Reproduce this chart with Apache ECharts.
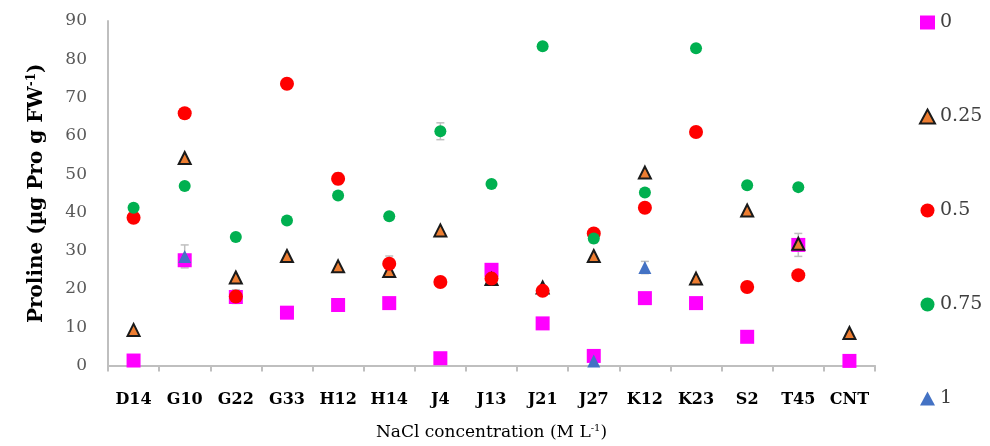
<!DOCTYPE html>
<html>
<head>
<meta charset="utf-8">
<script src="https://cdn.jsdelivr.net/npm/echarts@6/dist/echarts.min.js"></script>
<style>
  html, body { margin: 0; padding: 0; background: #fff; }
  #chart { width: 990px; height: 446px; }
</style>
</head>
<body>
<div id="chart"></div>
<script>
  // categories (lines)
  const lines = ['D14','G10','G22','G33','H12','H14','J4','J13','J21','J27','K12','K23','S2','T45','CNT'];
  // proline per NaCl level
  const nacl0    = [1.3, 27.5, 17.9, 13.8, 15.8, 16.3, 1.9, 25.0, 11.0, 2.5, 17.6, 16.3, 7.5, 31.5, 1.2];
  const nacl025  = [9.3, 54.2, 23.0, 28.6, 25.9, 24.7, 35.3, 22.6, 20.4, 28.6, 50.4, 22.7, 40.5, 31.8, 8.5];
  const nacl05   = [38.6, 65.9, 18.0, 73.6, 48.8, 26.6, 21.8, 22.7, 19.5, 34.5, 41.2, 61.0, 20.5, 23.6, null];
  const nacl075  = [41.2, 46.9, 33.6, 37.9, 44.4, 39.0, 61.2, 47.4, 83.4, 33.2, 45.2, 82.9, 47.1, 46.6, null];
  const nacl1    = [null, 28.5, null, null, null, null, null, null, null, 1.2, 25.6, null, null, null, null];
  // visible error bars: [category index, mean, sd]
  const errBars  = [[1, 28.5, 3.0], [2, 18.0, 1.8], [4, 48.8, 1.5], [5, 26.6, 2.0], [6, 61.2, 2.2],
                    [7, 22.7, 1.0], [9, 33.2, 1.2], [10, 25.6, 1.6], [13, 31.5, 3.0]];

  let myChart = echarts.init(document.getElementById('chart'));
  const serif = 'DejaVu Serif';

  function renderErr(params, api) {
    let x = api.value(0);
    let lo = api.coord([x, api.value(1) - api.value(2)]);
    let hi = api.coord([x, api.value(1) + api.value(2)]);
    let w = 4;
    let st = { stroke: '#bfbfbf', lineWidth: 1.5 };
    return {
      type: 'group',
      children: [
        { type: 'line', shape: { x1: lo[0], y1: lo[1], x2: hi[0], y2: hi[1] }, style: st },
        { type: 'line', shape: { x1: hi[0] - w, y1: hi[1], x2: hi[0] + w, y2: hi[1] }, style: st },
        { type: 'line', shape: { x1: lo[0] - w, y1: lo[1], x2: lo[0] + w, y2: lo[1] }, style: st }
      ]
    };
  }

  myChart.setOption({
    animation: false,
    grid: { left: 108, right: 115, top: 21, bottom: 78 },
    legend: {
      orient: 'vertical',
      left: 914,
      top: 8,
      itemGap: 75,
      itemWidth: 15,
      itemHeight: 14,
      textStyle: { fontFamily: serif, fontSize: 19, color: '#404040' },
      data: ['0','0.25','0.5','0.75','1']
    },
    xAxis: {
      type: 'category',
      data: lines,
      boundaryGap: true,
      name: 'NaCl concentration (M L{sup|-1})',
      nameLocation: 'middle',
      nameGap: 58,
      nameTextStyle: {
        fontFamily: serif, fontSize: 17, color: '#000',
        rich: { sup: { fontFamily: serif, fontSize: 10, padding: [0,0,8,0], color: '#000' } }
      },
      axisLine: { lineStyle: { color: '#bfbfbf', width: 2 } },
      axisTick: { show: true, length: 6, lineStyle: { color: '#bfbfbf', width: 2 } },
      axisLabel: { fontFamily: serif, fontSize: 16, fontWeight: 'bold', color: '#000', margin: 26, interval: 0 }
    },
    yAxis: {
      type: 'value',
      min: 0, max: 90, interval: 10,
      name: 'Proline (µg Pro g FW{sup|-1})',
      nameLocation: 'middle',
      nameGap: 60,
      nameTextStyle: {
        fontFamily: serif, fontSize: 20, fontWeight: 'bold', color: '#000',
        rich: { sup: { fontFamily: serif, fontSize: 12, fontWeight: 'bold', padding: [0,0,10,0], color: '#000' } }
      },
      splitLine: { show: false },
      axisLine: { show: true, lineStyle: { color: '#bfbfbf', width: 2 } },
      axisTick: { show: false },
      axisLabel: { fontFamily: serif, fontSize: 17, color: '#595959', margin: 21 }
    },
    series: [
      { type: 'custom', renderItem: renderErr, data: errBars, z: 1, silent: true },
      { name: '0', type: 'scatter', symbol: 'rect', symbolSize: 14, data: nacl0, z: 2,
        itemStyle: { color: '#ff00ff', opacity: 1 } },
      { name: '0.25', type: 'scatter', symbol: 'triangle', symbolSize: 12, data: nacl025, z: 2,
        itemStyle: { color: '#ed7d31', borderColor: '#1a1a1a', borderWidth: 2, opacity: 1 } },
      { name: '0.5', type: 'scatter', symbol: 'circle', symbolSize: 14, data: nacl05, z: 2,
        itemStyle: { color: '#ff0000', opacity: 1 } },
      { name: '0.75', type: 'scatter', symbol: 'circle', symbolSize: 12, data: nacl075, z: 2,
        itemStyle: { color: '#00b050', opacity: 1 } },
      { name: '1', type: 'scatter', symbol: 'triangle', symbolSize: 13, data: nacl1, z: 2,
        itemStyle: { color: '#4472c4', opacity: 1 } }
    ]
  });
</script>
</body>
</html>
